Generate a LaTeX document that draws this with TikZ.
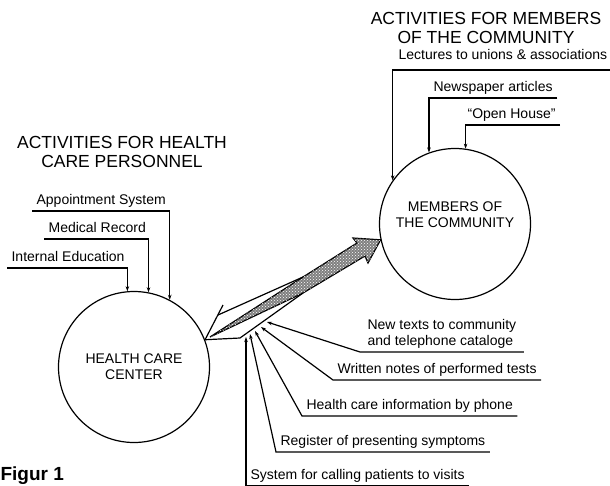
\documentclass[tikz,border=0pt]{standalone}
\usepackage{fontspec}
\setmainfont{Liberation Sans}
\usetikzlibrary{arrows.meta, patterns}

\begin{document}
\begin{tikzpicture}[x=1pt,y=-1pt,line width=1.2pt,>={Stealth[length=5pt,width=3.5pt]}]

			\tikzstyle{every node}=[font=\fontsize{14}{16}\selectfont]
			\tikzstyle{title}=[font=\fontsize{17.5}{18.5}\selectfont, align=center, inner sep=0pt]
			\tikzstyle{place}=[circle, draw, minimum size=151pt, inner sep=0pt, align=center]
			\tikzstyle{act}=[anchor=south west, inner xsep=4pt, inner ysep=3pt, text depth=3pt]
			\tikzstyle{feed}=[->]

			\useasboundingbox (0,0) rectangle (610,485);

			% the two groups and their headings
			\node[place] (hcc) at (134,367) {HEALTH CARE\\CENTER};
			\node[place, label={[align=center, yshift=9pt]center:MEMBERS OF\\THE COMMUNITY}] (mem) at (455,224) {};

			\node[title] (hctitle) at (122,152) {ACTIVITIES FOR HEALTH\\CARE PERSONNEL};
			\node[title] (comtitle) at (486,28) {ACTIVITIES FOR MEMBERS\\OF THE COMMUNITY};

			% activities for the personnel
			\node[act] (appt) at (32,211) {Appointment System};
			\node[act] (medrec) at (44,239) {Medical Record};
			\node[act] (intedu) at (7,268) {Internal Education};
			\draw[feed] (appt.south west) -| (hcc.62);
			\draw[feed] (medrec.south west) -| (hcc.79);
			\draw[feed] (intedu.south west) -| (hcc.95);

			% activities for the community
			\node[act, inner ysep=7pt, inner xsep=5pt] (lect) at (393,70) {Lectures to unions \& associations};
			\node[act] (news) at (429,98) {Newspaper articles};
			\node[act] (openh) at (463,125) {“Open House”};
			\draw[feed] (lect.south east) -| (mem.145);
			\draw[feed] (news.south east) -| (mem.110);
			\draw[feed] (openh.south east) -| (mem.82);

			% broad arrows between the circles
			\coordinate (up) at (303,277);
			\coordinate (lo) at (303,293);
			\draw[fill=black!50, postaction={pattern=crosshatch dots, pattern color=white}] (210,337) -- (up) -- (357,243) -- (353,238) -- (mem.192) -- (368,263) -- (365,256) -- (lo) -- cycle;
			\draw (up) -- (218,315);
			\draw (223,305) -- (hcc.21) -- (240,338) -- (lo);

			% feedback into the broad arrow
			\coordinate (t1) at (267,322);
			\coordinate (t2) at (261,327);
			\coordinate (t3) at (255,331);
			\coordinate (t4) at (250,334);
			\coordinate (t5) at (246,337);

			\node[act, align=left, inner xsep=7pt] (newtxt) at (360,352) {New texts to community\\and telephone cataloge};
			\node[act] (notes) at (333,380) {Written notes of performed tests};
			\node[act] (phone) at (302,416) {Health care information by phone};
			\node[act] (sympt) at (276,452) {Register of presenting symptoms};
			\node[act] (recall) at (246,486) {System for calling patients to visits};
			\draw[feed] (newtxt.south east) -- (newtxt.south west) -- (t1);
			\draw[feed] (notes.south east) -- (notes.south west) -- (t2);
			\draw[feed] (phone.south east) -- (phone.south west) -- (t3);
			\draw[feed] (sympt.south east) -- (sympt.south west) -- (t4);
			\draw[feed] (recall.south east) -- (recall.south west) -- (t5);

			\node[font=\bfseries\fontsize{19}{20}\selectfont, anchor=base west, inner sep=0pt] (fig) at (0,480) {Figur 1};

		\end{tikzpicture}
\end{document}
